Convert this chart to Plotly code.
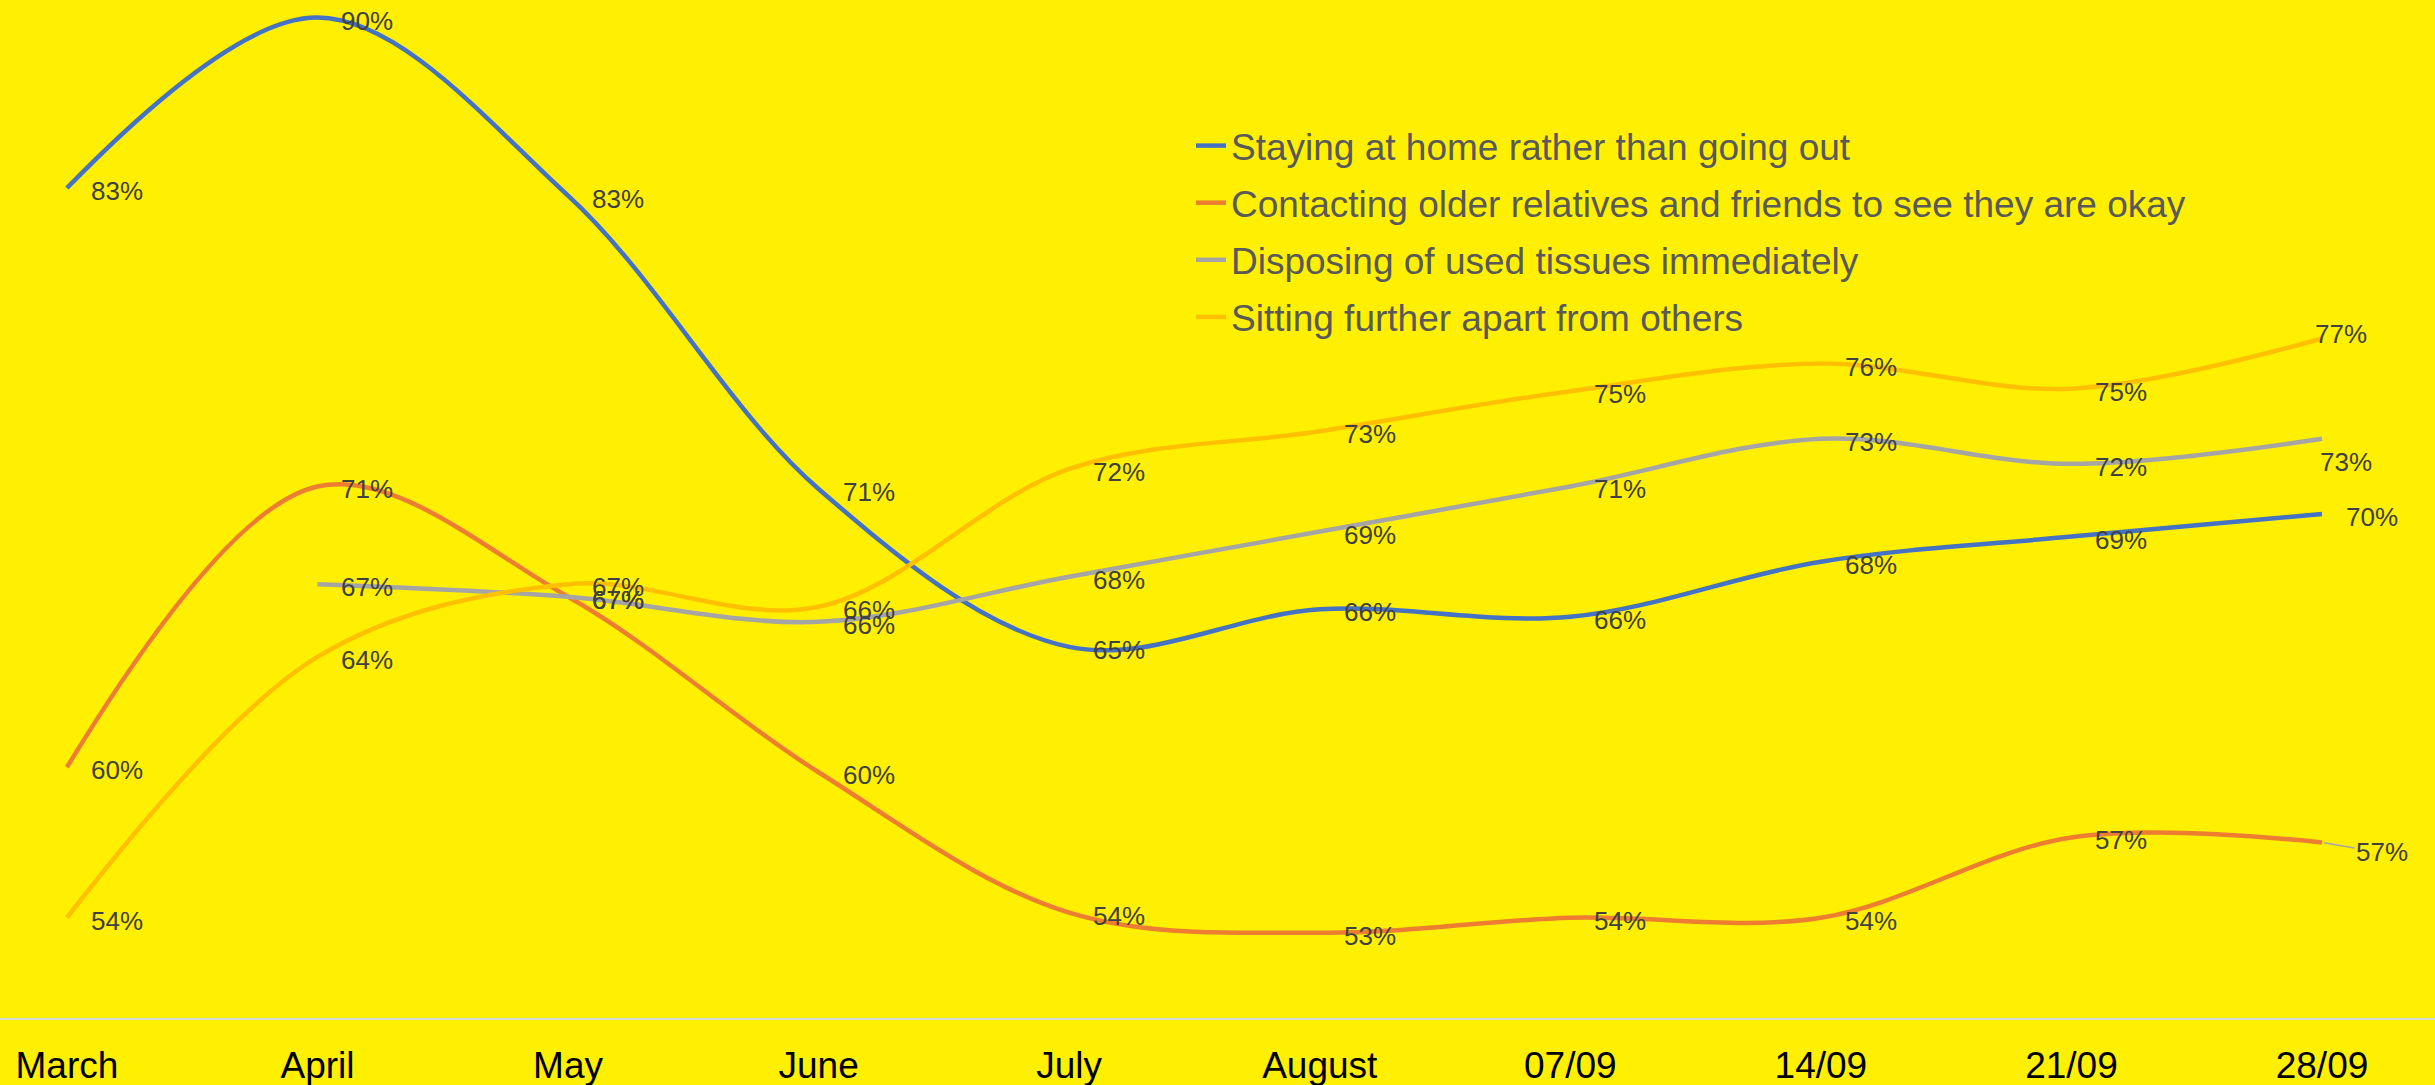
import plotly.graph_objects as go

categories = ["March", "April", "May", "June", "July", "August", "07/09", "14/09", "21/09", "28/09"]

staying_home = [83.1, 89.9, 82.8, 71.1, 64.8, 66.3, 66.0, 68.2, 69.2, 70.1]
contacting_older = [60.0, 71.2, 66.8, 59.8, 54.2, 53.4, 54.0, 54.0, 57.2, 57.0]
disposing_tissues = [None, 67.3, 66.8, 65.8, 67.6, 69.4, 71.2, 73.1, 72.1, 73.1]
sitting_apart = [54.0, 64.4, 67.3, 66.4, 71.9, 73.4, 75.0, 76.1, 75.1, 77.1]

series_names = [
    "Staying at home rather than going out",
    "Contacting older relatives and friends to see they are okay",
    "Disposing of used tissues immediately",
    "Sitting further apart from others",
]
series_values = [staying_home, contacting_older, disposing_tissues, sitting_apart]
series_colors = ["#4472C4", "#ED7D31", "#A5A5A5", "#FFC000"]

BG = "#FFEF00"
LABEL_COLOR = "#404040"
FONT = "Liberation Sans, Arial"

fig = go.Figure()
for i, (name, vals, col) in enumerate(zip(series_names, series_values, series_colors)):
    fig.add_trace(go.Scatter(
        x=categories, y=vals, name=name, mode="lines",
        line=dict(color=col, width=4.5, shape="spline", smoothing=1.0),
        connectgaps=False, legendgroup=f"g{i}", hoverinfo="skip",
    ))

# label position overrides (series index, point index) -> (xshift, yshift)
overrides = {
    (3, 9): (-9, 5),
    (2, 9): (-4, -23),
}
annotations = []
for si, vals in enumerate(series_values):
    for pi, v in enumerate(vals):
        if v is None:
            continue
        txt = f"{round(v)}%"
        if (si, pi) == (1, 9):
            annotations.append(dict(
                x=categories[pi], y=v, text=txt, showarrow=True,
                ax=60, ay=10, arrowhead=0, arrowwidth=1.5, arrowcolor="#A5A5A5",
                standoff=2,
                font=dict(family=FONT, size=26, color=LABEL_COLOR),
            ))
            continue
        xs, ys = overrides.get((si, pi), (22, -3))
        annotations.append(dict(
            x=categories[pi], y=v, text=txt, showarrow=False,
            xanchor="left", yanchor="middle", xshift=xs, yshift=ys,
            font=dict(family=FONT, size=26, color=LABEL_COLOR),
        ))

fig.update_layout(
    width=2435, height=1085,
    margin=dict(l=0, r=0, t=0, b=67),
    paper_bgcolor=BG, plot_bgcolor=BG,
    font=dict(family=FONT, color="#000000"),
    showlegend=True,
    legend=dict(
        x=1191 / 2435, y=0.887, xanchor="left", yanchor="top",
        bgcolor="rgba(0,0,0,0)",
        font=dict(family=FONT, size=37, color="#595959"),
        tracegroupgap=6, itemwidth=30,
    ),
    annotations=annotations,
    xaxis=dict(
        type="category", range=[-0.267, 9.451],
        showgrid=False, zeroline=False, automargin=False,
        showline=True, linecolor="#D9D9D9", linewidth=2,
        ticks="", tickfont=dict(family=FONT, size=37, color="#000000"),
        ticklabelstandoff=14,
    ),
    yaxis=dict(
        range=[50, 90.6], visible=False, showgrid=False, zeroline=False,
        automargin=False,
    ),
)

fig.write_html(
    "out.html",
    config={"displayModeBar": False},
    post_script="document.body.style.margin='0';document.body.style.overflow='hidden';",
)
